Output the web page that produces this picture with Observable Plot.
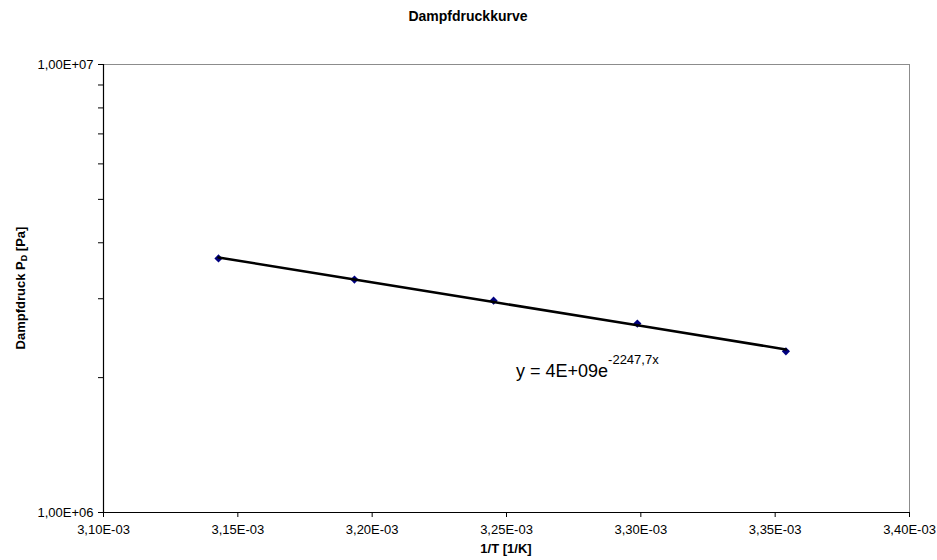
<!DOCTYPE html>
<html><head><meta charset="utf-8">
<script src="https://cdn.jsdelivr.net/npm/d3@7"></script>
<script src="https://cdn.jsdelivr.net/npm/@observablehq/plot@0.6"></script>
<style>
body{margin:0;background:#fff;}
#chart svg{display:block;}
</style>
</head><body><div id="chart"></div>
<script>
// Data: 1/T [1/K] and vapour pressure P_D [Pa]
const invT = [0.0031428, 0.0031934, 0.0032452, 0.0032987, 0.0033540];
const pressure = [3.69e6, 3.31e6, 2.97e6, 2.64e6, 2.29e6];
const xTicks = [0.00310, 0.00315, 0.00320, 0.00325, 0.00330, 0.00335, 0.00340];
const yMajorTicks = [1e6, 1e7];
const yMinorTicks = [2e6, 3e6, 4e6, 5e6, 6e6, 7e6, 8e6, 9e6];
const xDomain = [0.00310, 0.00340];
const yDomain = [1e6, 1e7];
const titleText = "Dampfdruckkurve";
const xLabelText = "1/T [1/K]";
const yLabelMain = "Dampfdruck P";
const yLabelSub = "D";
const yLabelTail = " [Pa]";
const eqMain = "y = 4E+09e";
const eqSup = "-2247,7x";

const data = invT.map((x, i) => ({x, y: pressure[i]}));

// exponential trendline (least squares on ln y)
const mx = d3.mean(data, d => d.x);
const my = d3.mean(data, d => Math.log(d.y));
const slope = d3.sum(data, d => (d.x - mx) * (Math.log(d.y) - my)) / d3.sum(data, d => (d.x - mx) ** 2);
const icpt = my - slope * mx;
const trend = data.map(d => ({x: d.x, y: Math.exp(icpt + slope * d.x)}));

function excelSci(v) {
  const [m, e] = v.toExponential(2).split("e");
  const sign = e[0] === "-" ? "-" : "+";
  const digits = e.replace(/[-+]/, "").padStart(2, "0");
  return m.replace(".", ",") + "E" + sign + digits;
}

const font = "'Liberation Sans', Arial, Helvetica, sans-serif";

const chart = Plot.plot({
  width: 937,
  height: 560,
  marginLeft: 103,
  marginRight: 28,
  marginTop: 64,
  marginBottom: 48,
  style: {fontFamily: font, fontSize: "13px", color: "#000", background: "#fff", overflow: "visible"},
  x: {domain: xDomain, axis: null},
  y: {type: "log", domain: yDomain, axis: null},
  marks: [
    Plot.frame({stroke: "#8c8c8c", strokeWidth: 1}),
    Plot.ruleX([xDomain[0]], {stroke: "#000", strokeWidth: 1.2}),
    Plot.ruleY([yDomain[0]], {stroke: "#000", strokeWidth: 1.2}),
    Plot.axisX({ticks: xTicks, tickFormat: excelSci, tickSize: 5, tickPadding: 7, label: null, fontSize: 13, stroke: "#000"}),
    Plot.axisY({ticks: yMajorTicks, tickFormat: excelSci, tickSize: 5, tickPadding: 5, label: null, fontSize: 13, stroke: "#000"}),
    Plot.axisY({ticks: yMinorTicks, tickFormat: () => "", tickSize: 5, label: null, stroke: "#000"}),
    Plot.dot(data, {x: "x", y: "y", symbol: "diamond2", r: 3.7, fill: "#000080", stroke: "none"}),
    Plot.line(trend, {x: "x", y: "y", stroke: "#000", strokeWidth: 2.6})
  ]
});

const svg = d3.select(chart);
// enlarge tick labels to match the reference
svg.selectAll("g[aria-label='x-axis tick label'], g[aria-label='y-axis tick label']")
  .attr("font-size", 13).style("font-size", "13px");
svg.selectAll("g[aria-label='x-axis tick label'] text, g[aria-label='y-axis tick label'] text")
  .attr("font-size", 13).style("font-size", "13px");

svg.append("text")
  .attr("x", 468).attr("y", 21)
  .attr("text-anchor", "middle")
  .attr("font-family", font).attr("font-size", 14).attr("font-weight", "bold")
  .attr("fill", "#000")
  .text(titleText);

svg.append("text")
  .attr("x", 506).attr("y", 553)
  .attr("text-anchor", "middle")
  .attr("font-family", font).attr("font-size", 13).attr("font-weight", "bold")
  .attr("fill", "#000")
  .text(xLabelText);

const yl = svg.append("text")
  .attr("transform", "translate(25,288) rotate(-90)")
  .attr("text-anchor", "middle")
  .attr("font-family", font).attr("font-size", 13).attr("font-weight", "bold")
  .attr("fill", "#000");
yl.append("tspan").text(yLabelMain);
yl.append("tspan").attr("font-size", 9).attr("dy", 2).text(yLabelSub);
yl.append("tspan").attr("dy", -2).text(yLabelTail);

const eq = svg.append("text")
  .attr("x", 516).attr("y", 377)
  .attr("text-anchor", "start")
  .attr("font-family", font).attr("font-size", 18)
  .attr("fill", "#000");
eq.append("tspan").text(eqMain);
eq.append("tspan").attr("font-size", 13).attr("dy", -13).text(eqSup);

document.getElementById("chart").appendChild(chart);
</script>
</body></html>
